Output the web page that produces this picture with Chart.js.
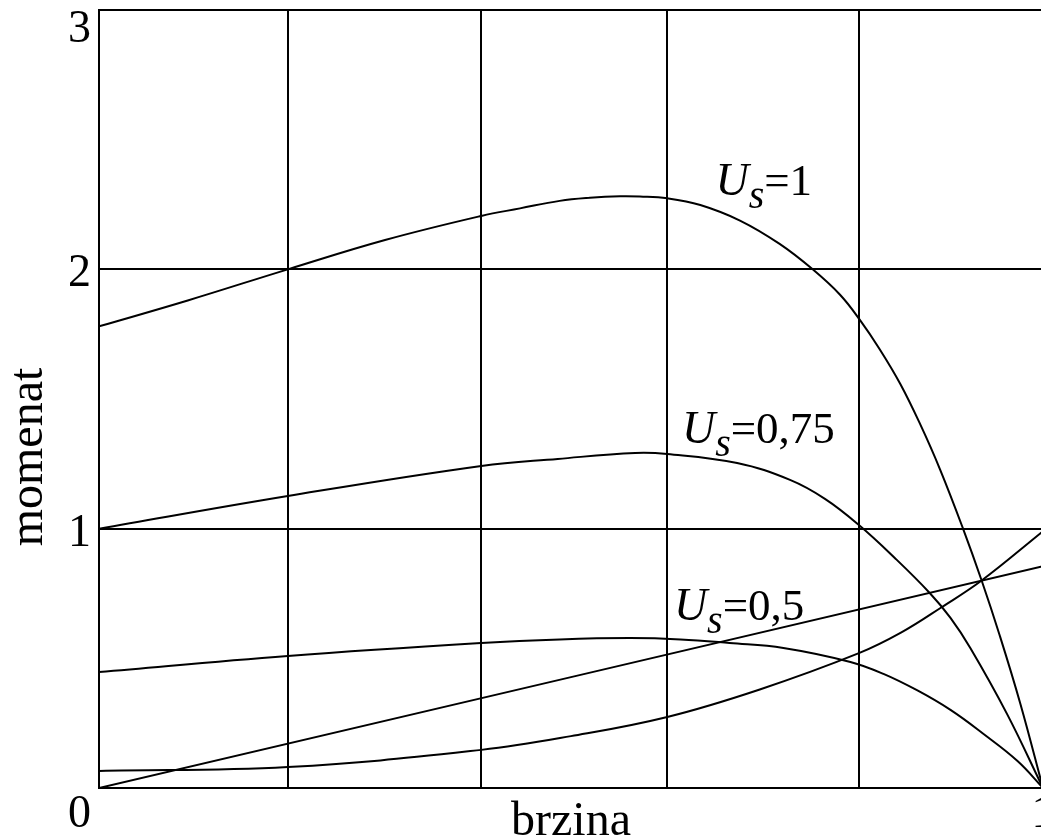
<!DOCTYPE html>
<html>
<head>
<meta charset="utf-8">
<title>momenat – brzina</title>
<script src="https://cdn.jsdelivr.net/npm/chart.js@4/dist/chart.umd.min.js"></script>
<style>
  html, body { margin: 0; padding: 0; background: #fff; overflow: hidden; }
  #wrap { width: 1041px; height: 839px; overflow: hidden; position: relative; }
  #plot { display: block; }
</style>
</head>
<body>
<div id="wrap"><canvas id="plot" width="1060" height="839"></canvas></div>
<script>
// Relative speed (x) and torque (y) samples for each supply level
const speedUs1   = [0, 0.094, 0.2, 0.303, 0.405, 0.446, 0.488, 0.520, 0.552, 0.573, 0.602, 0.637, 0.679, 0.721, 0.756, 0.785, 0.806, 0.827, 0.849, 0.870, 0.891, 0.915, 0.935, 0.954, 0.976, 1];
const torqueUs1  = [1.78, 1.88, 2.0, 2.113, 2.206, 2.235, 2.264, 2.276, 2.282, 2.281, 2.274, 2.248, 2.188, 2.098, 2.0, 1.902, 1.805, 1.692, 1.557, 1.402, 1.228, 1.003, 0.800, 0.590, 0.325, 0];

const speedUs075  = [0, 0.2, 0.405, 0.486, 0.568, 0.602, 0.676, 0.732, 0.769, 0.805, 0.843, 0.880, 0.902, 0.923, 0.962, 1];
const torqueUs075 = [1.0, 1.126, 1.242, 1.269, 1.292, 1.288, 1.253, 1.188, 1.115, 1.014, 0.887, 0.752, 0.656, 0.540, 0.285, 0];

const speedUs05   = [0, 0.2, 0.405, 0.488, 0.5625, 0.616, 0.668, 0.725, 0.796, 0.831, 0.867, 0.902, 0.936, 0.973, 1];
const torqueUs05  = [0.447, 0.509, 0.559, 0.573, 0.578, 0.573, 0.559, 0.540, 0.486, 0.440, 0.376, 0.301, 0.211, 0.104, 0];

// Load characteristics
const speedLinear  = [0, 1];
const torqueLinear = [0, 0.855];

const speedFan  = [0, 0.2, 0.405, 0.5, 0.602, 0.70, 0.805, 0.85, 0.893, 0.935, 1];
const torqueFan = [0.066, 0.081, 0.147, 0.200, 0.274, 0.380, 0.520, 0.600, 0.698, 0.80, 0.99];

// Axis ticks and grid positions
const yTicks = [0, 1, 2, 3];
const xGrid  = [0, 0.2, 0.405, 0.602, 0.805, 1];
const xTickLabels = { 1: '1' };

// Curve captions
const captionValues = ['1', '0,75', '0,5'];

const FONT = '"Liberation Serif", "Times New Roman", serif';
const INK = '#000';

function toPoints(xs, ys) { return xs.map((v, i) => ({ x: v, y: ys[i] })); }

function series(xs, ys) {
  return {
    data: toPoints(xs, ys),
    borderColor: INK,
    borderWidth: 2,
    pointRadius: 0,
    fill: false,
    tension: 0.4
  };
}

// Caption anchors (data coordinates) for the three supply curves
const captionAnchors = [
  { x: 0.653,  y: 2.287 },
  { x: 0.6175, y: 1.3305 },
  { x: 0.609,  y: 0.648 }
];

const captionPlugin = {
  id: 'captions',
  afterDraw(chart) {
    const { ctx, scales: { x, y } } = chart;
    ctx.save();
    ctx.fillStyle = INK;
    ctx.textAlign = 'left';
    ctx.textBaseline = 'alphabetic';
    captionAnchors.forEach((a, i) => {
      const px = x.getPixelForValue(a.x);
      const py = y.getPixelForValue(a.y);
      ctx.font = 'italic 46px ' + FONT;
      ctx.fillText('U', px, py);
      let cx = px + ctx.measureText('U').width;
      ctx.font = 'italic 40px ' + FONT;
      ctx.fillText('s', cx, py + 13);
      cx += ctx.measureText('s').width;
      ctx.font = '45px ' + FONT;
      ctx.fillText('=' + captionValues[i], cx, py);
    });

    // axis titles
    ctx.font = '48px ' + FONT;
    ctx.textAlign = 'center';
    ctx.fillText('brzina', (x.left + x.right) / 2, 835);
    ctx.translate(42, 457);
    ctx.rotate(-Math.PI / 2);
    ctx.fillText('momenat', 0, 0);
    ctx.restore();
  }
};

// Place tick labels on an alphabetic baseline
const tickPlacement = {
  id: 'tickPlacement',
  beforeDraw(chart) {
    const ys = chart.scales.y;
    ys.getLabelItems().forEach(item => {
      const v = Number(item.label);
      item.textOffset = 0;
      item.options.textBaseline = 'alphabetic';
      let base = ys.getPixelForValue(v) + 17;
      if (v === 3) base = ys.top + 32;
      if (v === 0) base = ys.bottom + 39;
      item.options.translation[1] = base;
    });
    const xs = chart.scales.x;
    xs.getLabelItems().forEach(item => {
      item.textOffset = 0;
      item.options.textBaseline = 'alphabetic';
      item.options.translation[1] = xs.top + 39;
    });
  }
};

new Chart(document.getElementById('plot'), {
  type: 'line',
  data: {
    datasets: [
      series(speedUs1, torqueUs1),
      series(speedUs075, torqueUs075),
      series(speedUs05, torqueUs05),
      series(speedLinear, torqueLinear),
      series(speedFan, torqueFan)
    ]
  },
  options: {
    responsive: false,
    animation: false,
    devicePixelRatio: 1,
    layout: { padding: { top: 10, right: 17, left: 0, bottom: 0 } },
    plugins: { legend: { display: false }, tooltip: { enabled: false }, title: { display: false } },
    scales: {
      x: {
        type: 'linear',
        min: 0,
        max: 1,
        afterBuildTicks: s => { s.ticks = xGrid.map(v => ({ value: v })); },
        afterFit: s => { s.height = 51; s.paddingLeft = 0; s.paddingRight = 0; },
        ticks: {
          autoSkip: false,
          maxRotation: 0,
          padding: 0,
          color: INK,
          font: { family: FONT, size: 46 },
          callback: v => xTickLabels[v] || ''
        },
        grid: { color: INK, lineWidth: 2, drawTicks: false },
        border: { display: true, color: INK, width: 2 }
      },
      y: {
        type: 'linear',
        min: 0,
        max: 3,
        afterBuildTicks: s => { s.ticks = yTicks.map(v => ({ value: v })); },
        afterFit: s => { s.width = 99; s.paddingTop = 0; s.paddingBottom = 0; },
        ticks: {
          padding: 8,
          color: INK,
          font: { family: FONT, size: 46 },
          callback: v => String(v)
        },
        grid: { color: INK, lineWidth: 2, drawTicks: false },
        border: { display: true, color: INK, width: 2 }
      }
    }
  },
  plugins: [tickPlacement, captionPlugin]
});
</script>
</body>
</html>
